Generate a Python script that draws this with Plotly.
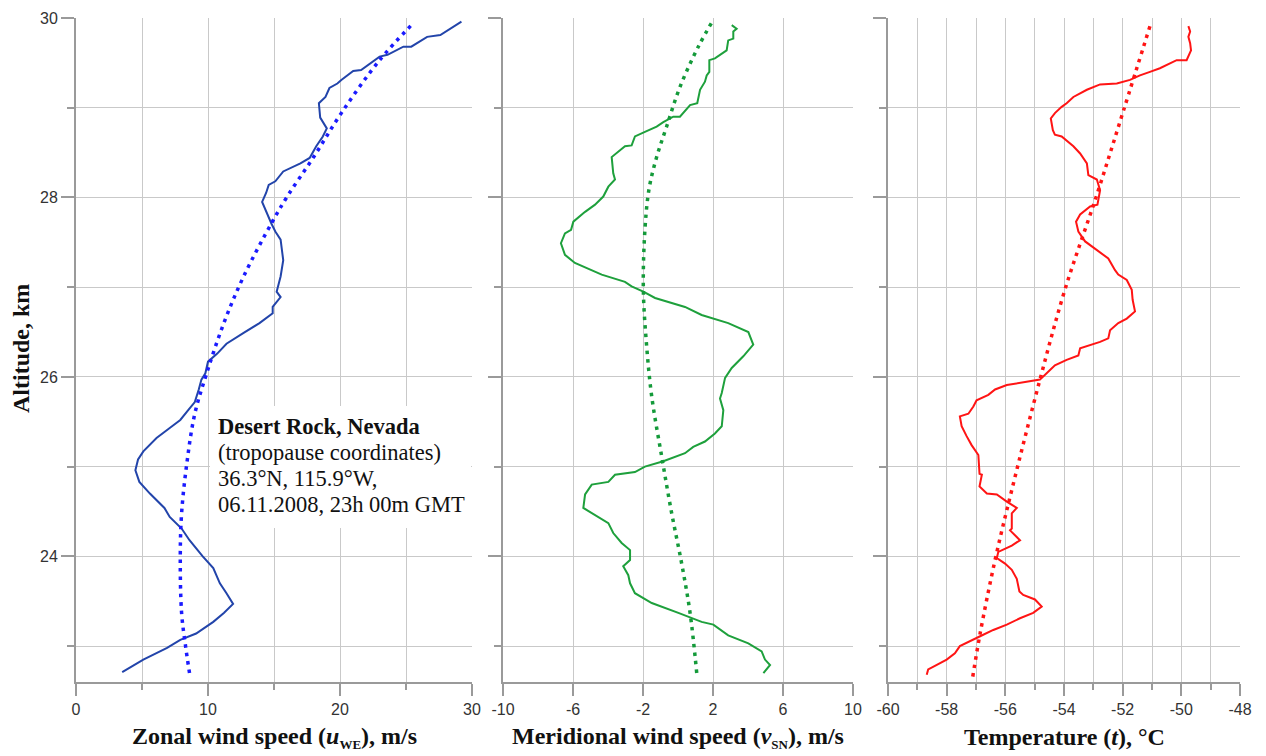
import plotly.graph_objects as go

W, H = 1266, 756

# ---------------- data ----------------
# Panel 1: zonal wind speed u_WE (m/s) vs altitude (km)
zonal_alt = [22.71, 22.85, 22.98, 23.07, 23.14, 23.27, 23.37, 23.47, 23.59, 23.70, 23.87, 24.00,
             24.18, 24.31, 24.44, 24.54, 24.70, 24.83, 24.96, 25.08, 25.17, 25.32, 25.43, 25.52,
             25.63, 25.72, 25.86, 25.97, 26.04, 26.17, 26.26, 26.37, 26.49, 26.60, 26.71, 26.78,
             26.89, 26.95, 27.12, 27.30, 27.53, 27.62, 27.71, 27.84, 27.95, 28.05, 28.14, 28.18,
             28.29, 28.38, 28.44, 28.57, 28.68, 28.77, 28.89, 29.05, 29.12, 29.22, 29.27, 29.31,
             29.41, 29.42, 29.57, 29.59, 29.68, 29.68, 29.79, 29.81, 29.90, 29.96]
zonal_u = [3.5, 5.1, 6.9, 7.9, 9.1, 10.4, 11.2, 11.9, 11.4, 10.9, 10.4, 9.6,
           8.6, 8.0, 7.1, 6.7, 5.6, 4.8, 4.5, 4.7, 5.1, 6.1, 7.1, 7.9,
           8.5, 9.0, 9.3, 9.5, 9.8, 10.0, 10.7, 11.4, 12.7, 13.9, 14.9, 14.9,
           15.5, 15.2, 15.5, 15.7, 15.5, 15.1, 14.8, 14.4, 14.1, 14.4, 14.6, 15.1,
           15.7, 17.0, 17.7, 18.2, 18.7, 19.0, 18.5, 18.4, 18.9, 19.2, 19.8, 20.1,
           21.0, 21.6, 23.0, 23.6, 24.8, 25.4, 26.6, 27.6, 28.5, 29.2]
zonal_fit_alt = [22.70, 23.00, 23.37, 24.00, 24.48, 25.04, 25.59, 26.04, 26.60, 27.12,
                 27.71, 28.01, 28.45, 28.94, 29.53, 29.95]
zonal_fit_u = [8.6, 8.3, 8.0, 7.9, 8.0, 8.4, 9.0, 9.9, 11.2, 12.7,
               14.8, 16.0, 18.0, 20.1, 23.0, 25.6]

# Panel 2: meridional wind speed v_SN (m/s)
merid_alt = [22.70, 22.79, 22.85, 22.94, 23.03, 23.12, 23.24, 23.27, 23.37, 23.48, 23.59, 23.70,
             23.79, 23.89, 23.96, 24.07, 24.15, 24.26, 24.37, 24.46, 24.54, 24.69, 24.80, 24.83,
             24.91, 24.94, 25.00, 25.06, 25.15, 25.22, 25.28, 25.37, 25.45, 25.63, 25.76, 25.82,
             25.99, 26.10, 26.23, 26.36, 26.45, 26.50, 26.60, 26.69, 26.78, 26.88, 26.95, 27.01,
             27.06, 27.14, 27.27, 27.36, 27.49, 27.60, 27.64, 27.73, 27.84, 27.92, 28.01, 28.12,
             28.20, 28.27, 28.45, 28.57, 28.58, 28.68, 28.73, 28.79, 28.84, 28.90, 28.90, 29.03,
             29.05, 29.20, 29.29, 29.36, 29.40, 29.53, 29.55, 29.64, 29.75, 29.77, 29.85, 29.88, 29.92]
merid_v = [4.88, 5.26, 4.97, 4.78, 4.02, 2.87, 2.02, 1.35, 0.02, -1.50, -2.46, -2.74,
           -2.84, -3.13, -2.74, -2.74, -3.22, -3.70, -3.98, -4.74, -5.41, -5.31, -4.93, -3.98,
           -3.60, -2.46, -1.89, -0.84, 0.40, 0.87, 1.54, 2.11, 2.50, 2.59, 2.40, 2.50,
           2.69, 3.07, 3.73, 4.30, 4.11, 4.02, 2.87, 1.35, 0.40, -1.31, -1.98, -2.65,
           -3.03, -4.36, -5.89, -6.46, -6.69, -6.46, -6.11, -5.98, -5.31, -4.74, -4.27, -3.98,
           -3.60, -3.70, -3.79, -3.03, -2.65, -2.46, -1.89, -1.22, -0.84, -0.27, 0.11, 0.69,
           1.10, 1.26, 1.54, 1.64, 1.79, 1.79, 2.11, 2.78, 2.87, 3.16, 3.16, 3.35, 3.07]
merid_fit_alt = [22.70, 23.37, 23.92, 24.48, 25.11, 25.78, 26.34, 26.97, 27.64, 28.10,
                 28.45, 28.79, 29.23, 29.68, 29.98]
merid_fit_v = [1.07, 0.69, 0.21, -0.36, -0.93, -1.50, -1.79, -1.98, -1.89, -1.65,
               -1.22, -0.65, 0.11, 1.16, 2.02]

# Panel 3: temperature t (°C)
temp_alt = [22.68, 22.74, 22.78, 22.85, 22.92, 23.00, 23.11, 23.18, 23.24, 23.31, 23.37, 23.44,
            23.52, 23.57, 23.61, 23.75, 23.85, 23.92, 23.98, 24.05, 24.12, 24.18, 24.29, 24.31,
            24.48, 24.54, 24.61, 24.69, 24.70, 24.78, 24.91, 24.92, 25.13, 25.24, 25.34, 25.45,
            25.56, 25.59, 25.67, 25.74, 25.80, 25.86, 25.91, 25.95, 25.97, 26.06, 26.13, 26.19,
            26.24, 26.32, 26.39, 26.43, 26.52, 26.60, 26.65, 26.73, 26.86, 26.97, 27.08, 27.14,
            27.19, 27.32, 27.40, 27.51, 27.62, 27.73, 27.81, 27.90, 27.92, 28.08, 28.20, 28.25,
            28.38, 28.49, 28.57, 28.68, 28.70, 28.75, 28.88, 28.94, 29.01, 29.05, 29.12, 29.20,
            29.26, 29.27, 29.31, 29.36, 29.40, 29.44, 29.53, 29.53, 29.64, 29.72, 29.79, 29.85, 29.91]
temp_t = [-58.68, -58.63, -58.40, -58.00, -57.72, -57.55, -56.86, -56.41, -55.95, -55.50, -55.05, -54.76,
          -54.99, -55.39, -55.52, -55.61, -55.78, -56.01, -56.29, -56.24, -55.78, -55.50, -55.84, -55.78,
          -55.78, -55.61, -55.95, -56.29, -56.63, -56.88, -56.80, -56.88, -56.92, -57.15, -57.32, -57.49,
          -57.55, -57.26, -57.09, -56.98, -56.58, -56.35, -55.95, -55.27, -54.82, -54.53, -54.31, -53.91,
          -53.51, -53.45, -52.77, -52.49, -52.43, -52.15, -51.86, -51.58, -51.66, -51.69, -51.86, -52.15,
          -52.26, -52.49, -52.83, -53.28, -53.51, -53.59, -53.45, -53.11, -52.86, -52.77, -52.88, -53.17,
          -53.22, -53.45, -53.68, -54.08, -54.31, -54.38, -54.45, -54.31, -54.08, -53.91, -53.68, -53.22,
          -52.77, -52.20, -51.75, -51.41, -51.07, -50.73, -50.16, -49.82, -49.67, -49.70, -49.76, -49.70, -49.76]
temp_fit_alt = [22.66, 23.14, 23.96, 24.74, 25.97, 26.97, 28.03, 28.96, 29.94]
temp_fit_t = [-57.11, -56.86, -56.35, -55.78, -54.82, -53.97, -52.88, -51.98, -51.04]

# ticks
alt_major = [24, 26, 28, 30]
alt_minor = [23, 25, 27, 29]
u_major = [0, 10, 20, 30]
u_minor = [5, 15, 25]
v_major = [-10, -6, -2, 2, 6, 10]
t_major = [-60, -58, -56, -54, -52, -50, -48]
t_minor = [-59, -57, -55, -53, -51, -49]

# station info text
info_lines = ["<b>Desert Rock, Nevada</b>", "(tropopause coordinates)",
              "36.3°N, 115.9°W,", "06.11.2008, 23h 00m GMT"]


def lab(v):
    return str(v)


# ---------------- figure ----------------
fig = go.Figure()
SOLID_W = 2
DOT = "3.5px,5px"

fig.add_trace(go.Scatter(x=zonal_u, y=zonal_alt, mode="lines",
                         line=dict(color="#2244aa", width=SOLID_W), xaxis="x", yaxis="y"))
fig.add_trace(go.Scatter(x=zonal_fit_u, y=zonal_fit_alt, mode="lines", line_shape="spline",
                         line=dict(color="#1a1aff", width=3.5, dash=DOT), xaxis="x", yaxis="y"))
fig.add_trace(go.Scatter(x=merid_v, y=merid_alt, mode="lines",
                         line=dict(color="#1ea03c", width=SOLID_W), xaxis="x2", yaxis="y2"))
fig.add_trace(go.Scatter(x=merid_fit_v, y=merid_fit_alt, mode="lines", line_shape="spline",
                         line=dict(color="#149a3a", width=3.5, dash=DOT), xaxis="x2", yaxis="y2"))
fig.add_trace(go.Scatter(x=temp_t, y=temp_alt, mode="lines",
                         line=dict(color="#ff1414", width=SOLID_W), xaxis="x3", yaxis="y3"))
fig.add_trace(go.Scatter(x=temp_fit_t, y=temp_fit_alt, mode="lines", line_shape="spline",
                         line=dict(color="#ff1414", width=3.5, dash=DOT), xaxis="x3", yaxis="y3"))


def px_x(p):
    return p / W


def px_y(p):
    return 1 - p / H


GRID = "#c9c9c9"
LINE = "#9a9a9a"
TICKFONT = dict(family="Liberation Sans, Arial, sans-serif", size=16, color="#333333")
y_dom = [px_y(682), px_y(18)]


def xaxis(dom, rng, major, minor, anchor):
    d = dict(domain=[px_x(dom[0]), px_x(dom[1])], range=rng, anchor=anchor,
             tickmode="array", tickvals=major, ticktext=[lab(v) for v in major],
             ticks="outside", ticklen=12, tickwidth=1.5, tickcolor=LINE,
             showgrid=True, gridcolor=GRID, gridwidth=1, zeroline=False, automargin=False,
             showline=True, linecolor=LINE, linewidth=2, tickfont=TICKFONT, fixedrange=True)
    if minor:
        d["minor"] = dict(tickmode="array", tickvals=minor, ticks="outside", ticklen=6,
                          tickwidth=1.5, tickcolor=LINE, showgrid=True, gridcolor=GRID, gridwidth=1)
    return d


def yaxis(anchor, labels):
    return dict(domain=y_dom, range=[22.6, 30.0], anchor=anchor,
                tickmode="array", tickvals=alt_major, ticktext=[str(v) for v in alt_major],
                showticklabels=labels, automargin=False,
                ticks="outside", ticklen=13, tickwidth=1.5, tickcolor=LINE,
                showgrid=True, gridcolor=GRID, gridwidth=1, zeroline=False,
                showline=True, linecolor=LINE, linewidth=2, tickfont=TICKFONT, fixedrange=True,
                minor=dict(tickmode="array", tickvals=alt_minor, ticks="outside", ticklen=7,
                           tickwidth=1.5, tickcolor=LINE, showgrid=True, gridcolor=GRID, gridwidth=1))


TITLEFONT = dict(family="Liberation Serif, Times New Roman, serif", size=24, color="#111111")
SUB = "<sub><span style='font-size:13px'>{}</span></sub>"
annotations = [
    dict(text="<b>Zonal wind speed (<i>u</i>" + SUB.format("WE") + "), m/s</b>",
         x=px_x(274), y=px_y(737)),
    dict(text="<b>Meridional wind speed (<i>v</i>" + SUB.format("SN") + "), m/s</b>",
         x=px_x(678), y=px_y(737)),
    dict(text="<b>Temperature (<i>t</i>), °C</b>", x=px_x(1064), y=px_y(737)),
    dict(text="<b>Altitude, km</b>", x=px_x(21), y=px_y(349), textangle=-90),
]
for a in annotations:
    a.update(xref="paper", yref="paper", showarrow=False, font=TITLEFONT,
             xanchor="center", yanchor="middle")

INFOFONT = dict(family="Liberation Serif, Times New Roman, serif", size=22.5, color="#111111")
for i, line in enumerate(info_lines):
    annotations.append(dict(text=line, x=px_x(216), y=px_y(426 + 26.3 * i),
                            xanchor="left", yanchor="middle", align="left",
                            xref="paper", yref="paper", showarrow=False, font=INFOFONT))

shapes = [dict(type="rect", xref="paper", yref="paper", layer="above",
               x0=px_x(210), x1=px_x(471), y0=px_y(528), y1=px_y(406),
               fillcolor="white", line=dict(width=0))]

fig.update_layout(
    width=W, height=H, margin=dict(l=0, r=0, t=0, b=0, pad=0), autosize=False,
    paper_bgcolor="white", plot_bgcolor="white", showlegend=False,
    xaxis=xaxis((76, 472), [0, 30], u_major, u_minor, "y"),
    xaxis2=xaxis((503, 853), [-10, 10], v_major, None, "y2"),
    xaxis3=xaxis((888, 1240), [-60, -48], t_major, t_minor, "y3"),
    yaxis=yaxis("x", True),
    yaxis2=yaxis("x2", False),
    yaxis3=yaxis("x3", False),
    annotations=annotations,
    shapes=shapes,
)

fig.write_html("out.html",
               post_script="document.body.style.margin='0';document.body.style.padding='0';"
                           "document.body.style.overflow='hidden';")
